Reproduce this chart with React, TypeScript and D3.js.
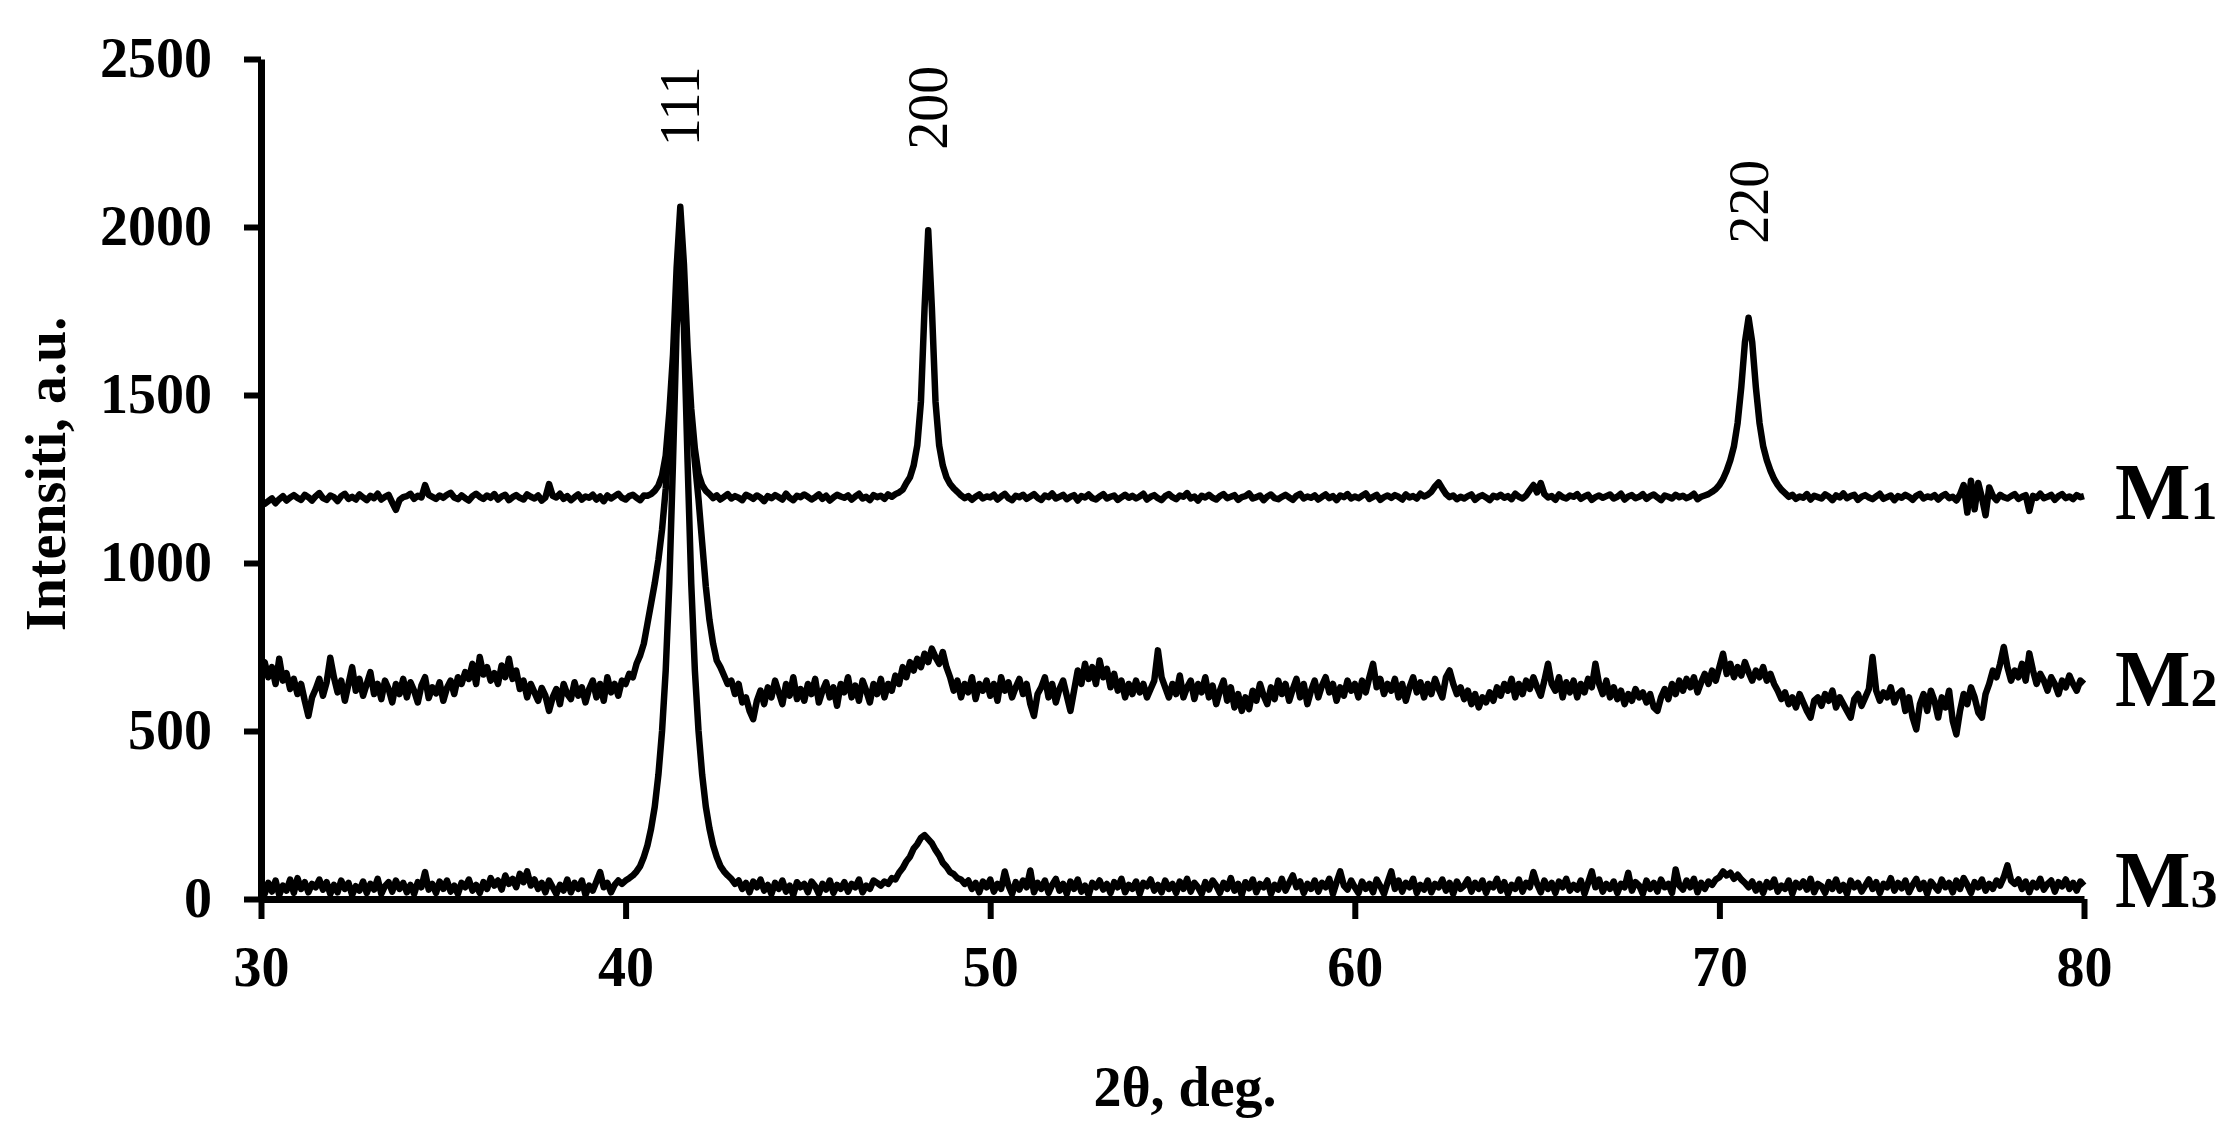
import { useEffect, useRef } from "react";
import * as d3 from "d3";

// XRD patterns, 2θ from 30.0° to 80.0° in 0.1° steps: one row = one degree (10 points)
const M1_ROWS: number[][] = [
  [1188, 1176, 1184, 1192, 1178, 1190, 1199, 1186, 1195, 1202],
  [1194, 1188, 1203, 1196, 1186, 1199, 1208, 1193, 1188, 1201],
  [1196, 1184, 1199, 1206, 1191, 1197, 1189, 1204, 1195, 1187],
  [1200, 1193, 1206, 1189, 1197, 1203, 1180, 1158, 1188, 1196],
  [1199, 1206, 1191, 1200, 1195, 1232, 1203, 1197, 1191, 1201],
  [1194, 1203, 1209, 1195, 1190, 1201, 1193, 1186, 1199, 1206],
  [1197, 1191, 1201, 1194, 1205, 1189, 1198, 1203, 1187, 1196],
  [1202, 1194, 1189, 1204, 1197, 1192, 1201, 1186, 1195, 1235],
  [1200, 1195, 1206, 1191, 1199, 1187, 1196, 1204, 1189, 1198],
  [1194, 1203, 1189, 1198, 1184, 1201, 1192, 1199, 1206, 1194],
  [1189, 1199, 1203, 1194, 1187, 1201, 1200, 1205, 1215, 1230],
  [1260, 1320, 1450, 1620, 1880, 2060, 1890, 1640, 1460, 1340],
  [1265, 1232, 1215, 1205, 1193, 1201, 1189, 1197, 1205, 1192],
  [1199, 1194, 1187, 1203, 1198, 1191, 1201, 1195, 1184, 1199],
  [1193, 1202, 1196, 1189, 1206, 1194, 1187, 1200, 1196, 1204],
  [1197, 1189, 1196, 1204, 1191, 1200, 1186, 1195, 1203, 1198],
  [1194, 1201, 1189, 1198, 1206, 1192, 1197, 1187, 1202, 1196],
  [1200, 1191, 1204, 1197, 1205, 1210, 1218, 1238, 1255, 1290],
  [1350, 1480, 1760, 1990, 1760, 1480, 1350, 1290, 1255, 1235],
  [1222, 1212, 1201, 1193, 1199, 1188, 1197, 1204, 1192, 1198],
  [1195, 1203, 1189, 1198, 1206, 1193, 1187, 1200, 1196, 1203],
  [1191, 1198, 1205, 1194, 1188, 1201, 1196, 1207, 1192, 1197],
  [1203, 1190, 1197, 1202, 1186, 1199, 1195, 1204, 1193, 1189],
  [1198, 1205, 1192, 1197, 1201, 1188, 1196, 1203, 1194, 1200],
  [1192, 1198, 1206, 1189, 1197, 1202, 1193, 1187, 1199, 1205],
  [1196, 1190, 1201, 1197, 1208, 1192, 1198, 1186, 1200, 1195],
  [1203, 1194, 1189, 1199, 1205, 1193, 1197, 1202, 1188, 1196],
  [1199, 1207, 1192, 1196, 1201, 1187, 1198, 1204, 1193, 1190],
  [1197, 1203, 1195, 1188, 1200, 1206, 1192, 1198, 1194, 1201],
  [1189, 1197, 1204, 1193, 1199, 1187, 1201, 1196, 1205, 1192],
  [1198, 1193, 1200, 1207, 1191, 1197, 1203, 1188, 1196, 1201],
  [1194, 1202, 1197, 1189, 1204, 1195, 1199, 1192, 1206, 1198],
  [1203, 1212, 1228, 1240, 1222, 1205, 1196, 1201, 1190, 1197],
  [1192, 1199, 1204, 1188, 1197, 1202, 1195, 1187, 1200, 1196],
  [1203, 1194, 1199, 1190, 1206, 1197, 1192, 1201, 1217, 1232],
  [1210, 1238, 1205, 1195, 1199, 1188, 1204, 1196, 1192, 1201],
  [1197, 1205, 1191, 1198, 1203, 1188, 1196, 1201, 1194, 1199],
  [1204, 1192, 1197, 1206, 1189, 1198, 1202, 1193, 1197, 1205],
  [1191, 1199, 1204, 1195, 1187, 1201, 1197, 1192, 1203, 1196],
  [1200, 1193, 1198, 1206, 1190, 1197, 1201, 1205, 1212, 1220],
  [1232, 1250, 1275, 1306, 1348, 1417, 1523, 1657, 1730, 1657],
  [1523, 1417, 1348, 1306, 1275, 1250, 1232, 1218, 1208, 1197],
  [1203, 1191, 1198, 1194, 1205, 1189, 1200, 1196, 1192, 1204],
  [1198, 1187, 1201, 1195, 1207, 1193, 1199, 1203, 1188, 1197],
  [1202, 1195, 1190, 1198, 1206, 1191, 1196, 1201, 1187, 1199],
  [1194, 1203, 1197, 1188, 1200, 1206, 1192, 1198, 1195, 1202],
  [1189, 1199, 1205, 1193, 1197, 1186, 1204, 1232, 1150, 1245],
  [1160, 1238, 1195, 1142, 1225, 1200, 1187, 1203, 1196, 1192],
  [1199, 1205, 1191, 1197, 1202, 1155, 1200, 1194, 1206, 1193],
  [1197, 1203, 1188, 1199, 1205, 1193, 1198, 1190, 1202, 1196],
  [1199],
];

const M2_ROWS: number[][] = [
  [680, 705, 660, 690, 640, 715, 650, 672, 625, 655],
  [610, 640, 590, 545, 600, 625, 655, 605, 645, 718],
  [660, 615, 650, 590, 640, 690, 620, 655, 605, 640],
  [675, 610, 640, 595, 650, 625, 585, 640, 610, 655],
  [600, 645, 620, 585, 635, 660, 598, 630, 612, 645],
  [590, 628, 650, 610, 660, 640, 675, 655, 700, 640],
  [720, 668, 690, 650, 672, 640, 695, 660, 715, 655],
  [680, 625, 650, 600, 640, 615, 590, 628, 605, 560],
  [600, 625, 580, 640, 610, 595, 645, 605, 630, 585],
  [625, 650, 600, 640, 590, 660, 615, 640, 605, 650],
  [640, 670, 660, 700, 725, 760, 820, 880, 940, 1010],
  [1100, 1220, 1380, 1560, 1720, 1800, 1730, 1580, 1420, 1300],
  [1190, 1060, 930, 830, 760, 710, 690, 665, 640, 650],
  [610, 640, 585, 600, 560, 535, 590, 620, 580, 630],
  [600, 650, 615, 580, 640, 605, 660, 595, 625, 590],
  [640, 610, 655, 585, 620, 645, 600, 630, 575, 640],
  [615, 660, 600, 635, 590, 650, 620, 585, 640, 610],
  [655, 600, 640, 620, 665, 640, 690, 660, 705, 680],
  [715, 690, 730, 705, 745, 720, 700, 735, 690, 660],
  [620, 650, 600, 640, 615, 660, 595, 640, 620, 650],
  [605, 640, 590, 660, 620, 645, 600, 630, 655, 610],
  [640, 580, 545, 610, 630, 660, 600, 640, 585, 625],
  [650, 605, 560, 620, 680, 640, 700, 655, 690, 640],
  [710, 660, 685, 630, 670, 620, 650, 600, 640, 610],
  [650, 615, 640, 600, 625, 650, 740, 660, 630, 600],
  [640, 610, 665, 600, 630, 650, 595, 640, 615, 660],
  [600, 635, 580, 620, 650, 590, 630, 570, 610, 560],
  [600, 565, 620, 590, 640, 605, 580, 630, 595, 650],
  [610, 640, 590, 625, 655, 600, 640, 580, 620, 650],
  [600, 635, 660, 615, 640, 590, 630, 605, 650, 620],
  [640, 600, 650, 615, 660, 700, 630, 655, 610, 640],
  [620, 655, 600, 640, 590, 630, 660, 615, 645, 600],
  [640, 610, 655, 625, 600, 660, 680, 640, 610, 630],
  [595, 620, 580, 610, 570, 600, 585, 615, 590, 630],
  [605, 640, 620, 655, 600, 640, 610, 650, 625, 660],
  [630, 605, 650, 700, 640, 620, 660, 600, 645, 615],
  [650, 600, 640, 615, 655, 630, 700, 640, 610, 650],
  [600, 630, 595, 620, 580, 610, 590, 625, 600, 615],
  [585, 610, 570, 560, 600, 625, 595, 640, 610, 650],
  [620, 655, 630, 660, 615, 645, 670, 640, 680, 650],
  [690, 730, 670, 700, 660, 690, 665, 705, 675, 650],
  [680, 660, 690, 650, 670, 640, 620, 595, 615, 580],
  [600, 570, 610, 585, 560, 540, 590, 600, 575, 610],
  [590, 620, 570, 600, 580, 560, 540, 595, 610, 575],
  [600, 625, 720, 620, 590, 615, 600, 630, 585, 610],
  [620, 560, 600, 540, 505, 580, 610, 560, 620, 590],
  [540, 600, 570, 620, 530, 490, 560, 610, 580, 630],
  [600, 555, 540, 610, 640, 680, 660, 700, 750, 690],
  [650, 680, 660, 700, 650, 731, 680, 640, 670, 650],
  [620, 660, 640, 610, 650, 630, 665, 640, 620, 650],
  [640],
];

const M3_ROWS: number[][] = [
  [35, 15, 48, 22, 55, 12, 40, 25, 58, 18],
  [62, 30, 50, 20, 45, 35, 58, 28, 50, 15],
  [42, 20, 55, 30, 48, 12, 38, 25, 52, 18],
  [45, 28, 60, 15, 38, 50, 22, 55, 30, 48],
  [20, 42, 15, 50, 35, 80, 28, 45, 18, 52],
  [30, 55, 22, 40, 15, 48, 35, 58, 25, 42],
  [18, 50, 30, 62, 40, 55, 28, 70, 45, 60],
  [35, 75, 50, 82, 40, 58, 30, 48, 20, 55],
  [35, 15, 42, 25, 58, 20, 48, 30, 55, 12],
  [40, 25, 52, 80, 35, 48, 20, 42, 55, 45],
  [55, 62, 70, 82, 98, 125, 160, 210, 275, 370],
  [500, 680, 940, 1300, 1700, 1900, 1700, 1300, 940, 680],
  [500, 370, 275, 210, 160, 125, 98, 82, 70, 60],
  [45, 55, 30, 48, 20, 52, 35, 58, 25, 42],
  [15, 48, 30, 55, 22, 40, 12, 50, 35, 45],
  [20, 52, 38, 15, 45, 28, 55, 18, 42, 30],
  [50, 22, 45, 35, 58, 20, 40, 30, 55, 48],
  [40, 52, 45, 62, 58, 78, 92, 112, 126, 150],
  [163, 182, 190, 178, 166, 146, 130, 108, 96, 80],
  [74, 62, 58, 45, 55, 30, 48, 20, 52, 35],
  [58, 22, 45, 30, 82, 40, 15, 50, 28, 55],
  [35, 85, 20, 48, 30, 55, 18, 42, 60, 25],
  [45, 15, 52, 30, 58, 22, 40, 12, 48, 35],
  [55, 28, 45, 18, 50, 35, 60, 20, 42, 30],
  [52, 15, 48, 38, 58, 25, 42, 20, 55, 30],
  [45, 18, 52, 30, 60, 22, 48, 35, 15, 50],
  [28, 55, 40, 18, 48, 30, 62, 25, 45, 12],
  [50, 32, 58, 20, 45, 35, 55, 15, 42, 28],
  [60, 25, 48, 70, 35, 52, 18, 45, 30, 55],
  [22, 48, 35, 60, 15, 50, 82, 40, 28, 55],
  [35, 18, 52, 30, 45, 20, 58, 38, 15, 50],
  [82, 30, 55, 22, 48, 35, 60, 18, 42, 28],
  [55, 20, 45, 35, 58, 25, 48, 15, 52, 30],
  [40, 58, 22, 48, 30, 55, 18, 45, 35, 60],
  [25, 50, 15, 42, 30, 58, 22, 48, 35, 80],
  [45, 20, 55, 30, 48, 18, 52, 35, 60, 25],
  [42, 28, 55, 15, 48, 82, 35, 58, 22, 45],
  [30, 52, 18, 45, 35, 78, 25, 50, 40, 15],
  [55, 30, 48, 22, 58, 35, 45, 18, 88, 40],
  [28, 55, 35, 60, 20, 48, 30, 52, 42, 58],
  [65, 82, 70, 78, 60, 72, 58, 48, 35, 52],
  [25, 45, 18, 50, 35, 58, 22, 40, 30, 55],
  [15, 48, 35, 52, 28, 60, 20, 45, 38, 18],
  [50, 30, 58, 25, 42, 15, 55, 35, 48, 22],
  [40, 58, 30, 50, 18, 45, 35, 62, 25, 48],
  [32, 55, 20, 42, 60, 30, 48, 15, 52, 38],
  [25, 58, 35, 48, 20, 55, 30, 62, 42, 18],
  [50, 35, 58, 25, 45, 30, 55, 40, 65, 100],
  [55, 45, 58, 30, 52, 20, 48, 35, 60, 28],
  [45, 55, 22, 50, 38, 58, 30, 48, 25, 52],
  [40],
];

const SERIES_NAMES = ["1", "2", "3"]; // M1, M2, M3
const X_TICKS = [30, 40, 50, 60, 70, 80];
const Y_TICKS = [0, 500, 1000, 1500, 2000, 2500];
const PEAK_LABELS = ["111", "200", "220"];
const PEAK_POS = [41.5, 48.3, 70.8];
const PEAK_LABEL_LEVEL = [2240, 2230, 1950]; // where each label starts, in intensity units

type Pt = { t: number; v: number };

// rows -> points (row r starts at 30 + r degrees)
const toPoints = (rows: number[][]): Pt[] =>
  rows.flatMap((row, r) => row.map((v, j) => ({ t: 30 + r + j / 10, v })));

const App = () => {
  const svgRef = useRef<SVGSVGElement>(null);

  useEffect(() => {
    if (!svgRef.current) return;
    const svg = d3.select(svgRef.current);
    svg.selectAll("*").remove();

    const font = '"Liberation Serif", "Times New Roman", serif';
    const fs = 56;

    const x = d3.scaleLinear().domain([30, 80]).range([261, 2084]);
    const y = d3.scaleLinear().domain([0, 2500]).range([899, 59]);

    const line = d3
      .line<Pt>()
      .x((d) => x(d.t))
      .y((d) => y(d.v));

    const series = [M1_ROWS, M2_ROWS, M3_ROWS].map((rows, i) => ({
      sub: SERIES_NAMES[i],
      points: toPoints(rows),
      last: d3.mean(rows[rows.length - 2]) as number,
    }));

    // traces
    svg
      .append("g")
      .selectAll("path")
      .data(series)
      .enter()
      .append("path")
      .attr("d", (d) => line(d.points))
      .attr("fill", "none")
      .attr("stroke", "#000")
      .attr("stroke-width", 6.5)
      .attr("stroke-linejoin", "round");

    // y axis
    const yAxis = svg
      .append("g")
      .attr("transform", `translate(${x(30)},0)`)
      .call(
        d3
          .axisLeft(y)
          .tickValues(Y_TICKS)
          .tickFormat((d) => String(d))
          .tickSize(17)
          .tickSizeOuter(0)
          .tickPadding(32)
      );

    // x axis
    const xAxis = svg
      .append("g")
      .attr("transform", `translate(0,${y(0)})`)
      .call(
        d3
          .axisBottom(x)
          .tickValues(X_TICKS)
          .tickFormat((d) => String(d))
          .tickSize(20)
          .tickSizeOuter(0)
          .tickPadding(27)
      );

    [yAxis, xAxis].forEach((ax) => {
      ax.select(".domain").attr("stroke", "#000").attr("stroke-width", 7);
      ax.selectAll(".tick line").attr("stroke", "#000").attr("stroke-width", 6);
      ax.selectAll(".tick text")
        .attr("fill", "#000")
        .style("font-family", font)
        .style("font-size", `${fs}px`)
        .style("font-weight", "bold");
    });

    // axis titles
    svg
      .append("text")
      .attr("transform", "translate(65,474) rotate(-90)")
      .attr("text-anchor", "middle")
      .style("font-family", font)
      .style("font-size", `${fs}px`)
      .style("font-weight", "bold")
      .text("Intensiti, a.u.");

    svg
      .append("text")
      .attr("x", 1185)
      .attr("y", 1106)
      .attr("text-anchor", "middle")
      .style("font-family", font)
      .style("font-size", `${fs}px`)
      .style("font-weight", "bold")
      .text("2θ, deg.");

    // peak (hkl) labels, rotated
    svg
      .append("g")
      .selectAll("text")
      .data(PEAK_LABELS)
      .enter()
      .append("text")
      .attr(
        "transform",
        (d, i) => `translate(${x(PEAK_POS[i]) + fs * 0.34},${y(PEAK_LABEL_LEVEL[i])}) rotate(-90)`
      )
      .style("font-family", font)
      .style("font-size", `${fs}px`)
      .text((d) => d);

    // series names on the right
    const names = svg
      .append("g")
      .selectAll("text")
      .data(series)
      .enter()
      .append("text")
      .attr("x", x(80) + 31)
      .attr("y", (d) => y(d.last) + 22)
      .style("font-family", font)
      .style("font-weight", "bold")
      .style("font-size", "80px");
    names.append("tspan").text("M");
    names
      .append("tspan")
      .style("font-size", "54px")
      .text((d) => d.sub);
  }, []);

  return (
    <svg
      ref={svgRef}
      width={2237}
      height={1124}
      style={{ position: "absolute", left: 0, top: 0, background: "#fff" }}
    ></svg>
  );
};

export default App;
